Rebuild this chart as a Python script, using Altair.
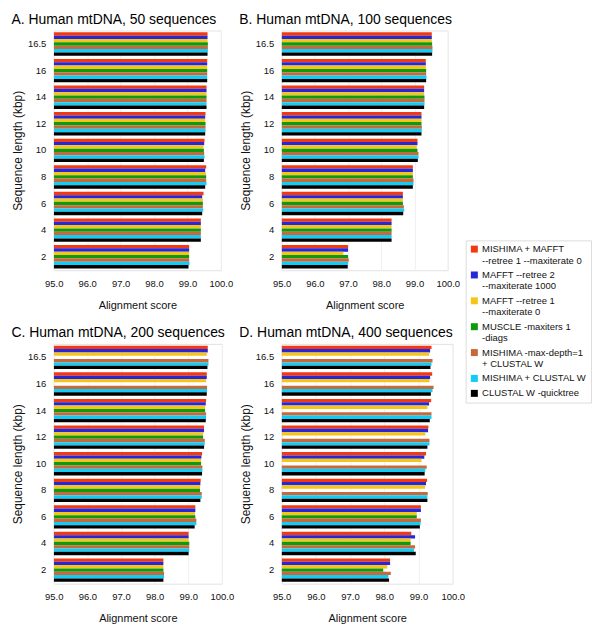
import altair as alt
import pandas as pd

# ---- data -------------------------------------------------------------
lengths = ["16.5", "16", "14", "12", "10", "8", "6", "4", "2"]  # top -> bottom

series = [
    "MISHIMA + MAFFT|--retree 1 --maxiterate 0",
    "MAFFT --retree 2|--maxiterate 1000",
    "MAFFT --retree 1|--maxiterate 0",
    "MUSCLE -maxiters 1|-diags",
    "MISHIMA -max-depth=1|+ CLUSTAL W",
    "MISHIMA + CLUSTAL W",
    "CLUSTAL W -quicktree",
]
colors = ["#F23A12", "#2626DA", "#F5C518", "#0E9A0E", "#C8693A", "#10CCF8", "#000000"]

titles = [
    "A. Human mtDNA, 50 sequences",
    "B. Human mtDNA, 100 sequences",
    "C. Human mtDNA, 200 sequences",
    "D. Human mtDNA, 400 sequences",
]

# values per series, in the order of `lengths`
a_red    = [99.60, 99.59, 99.57, 99.54, 99.51, 99.56, 99.48, 99.40, 99.05]
a_blue   = [99.60, 99.59, 99.57, 99.53, 99.50, 99.53, 99.44, 99.40, 99.05]
a_yellow = [99.60, 99.59, 99.57, 99.53, 99.48, 99.55, 99.46, 99.40, 99.05]
a_green  = [99.61, 99.59, 99.57, 99.54, 99.49, 99.56, 99.46, 99.40, 99.05]
a_brown  = [99.61, 99.59, 99.57, 99.54, 99.50, 99.56, 99.46, 99.40, 99.05]
a_cyan   = [99.61, 99.59, 99.57, 99.54, 99.51, 99.57, 99.47, 99.40, 99.06]
a_black  = [99.60, 99.59, 99.57, 99.53, 99.49, 99.53, 99.44, 99.40, 99.03]

b_red    = [99.52, 99.34, 99.29, 99.21, 99.09, 98.95, 98.65, 98.31, 97.00]
b_blue   = [99.52, 99.34, 99.29, 99.21, 99.09, 98.95, 98.65, 98.31, 97.00]
b_yellow = [99.52, 99.34, 99.29, 99.21, 99.07, 98.95, 98.65, 98.31, 96.86]
b_green  = [99.53, 99.35, 99.30, 99.21, 99.09, 98.95, 98.65, 98.31, 97.00]
b_brown  = [99.54, 99.35, 99.30, 99.22, 99.12, 98.97, 98.68, 98.31, 97.02]
b_cyan   = [99.54, 99.36, 99.30, 99.22, 99.12, 98.97, 98.69, 98.31, 97.00]
b_black  = [99.53, 99.35, 99.29, 99.21, 99.10, 98.95, 98.66, 98.31, 96.99]

c_red    = [99.58, 99.55, 99.53, 99.47, 99.41, 99.37, 99.21, 99.01, 98.26]
c_blue   = [99.58, 99.55, 99.52, 99.47, 99.39, 99.36, 99.21, 99.01, 98.26]
c_yellow = [99.55, 99.53, 99.50, 99.44, 99.38, 99.35, 99.20, 99.01, 98.26]
c_green  = [None,  None,  99.50, 99.44, 99.38, 99.35, 99.21, 99.03, 98.26]
c_brown  = [99.60, 99.56, 99.53, 99.49, 99.42, 99.40, 99.24, 99.03, 98.28]
c_cyan   = [99.60, 99.56, 99.53, 99.49, 99.42, 99.40, 99.24, 99.03, 98.28]
c_black  = [99.57, 99.55, 99.52, 99.47, 99.41, 99.36, 99.19, 99.01, 98.26]

d_red    = [99.38, 99.40, 99.37, 99.29, 99.22, 99.25, 99.07, 98.79, 98.17]
d_blue   = [99.34, 99.34, 99.31, 99.28, 99.17, 99.22, 99.07, 98.90, 98.17]
d_yellow = [99.31, 99.32, 99.26, 99.20, 99.09, 99.19, 98.95, 98.77, 98.09]
d_green  = [None,  None,  None,  None,  None,  None,  98.95, 98.77, 97.97]
d_brown  = [99.41, 99.44, 99.38, 99.32, 99.24, 99.27, 99.07, 98.90, 98.19]
d_cyan   = [99.38, 99.41, 99.38, 99.32, 99.20, 99.26, 99.06, 98.87, 98.12]
d_black  = [99.35, 99.36, 99.33, 99.26, 99.18, 99.26, 99.04, 98.92, 98.14]

panels = [
    [a_red, a_blue, a_yellow, a_green, a_brown, a_cyan, a_black],
    [b_red, b_blue, b_yellow, b_green, b_brown, b_cyan, b_black],
    [c_red, c_blue, c_yellow, c_green, c_brown, c_cyan, c_black],
    [d_red, d_blue, d_yellow, d_green, d_brown, d_cyan, d_black],
]
x_ticks = [95, 96, 97, 98, 99, 100]

FONT = "Liberation Sans"
widths = [168, 167, 169, 172]


def make_panel(idx):
    rows = []
    for s, vals in zip(series, panels[idx]):
        for L, v in zip(lengths, vals):
            if v is not None:
                rows.append({"length": L, "series": s, "score": v})
    df = pd.DataFrame(rows)
    legend = None
    if idx == 0:
        legend = alt.Legend(
            title=None,
            orient="none",
            legendX=414,
            legendY=211,
            symbolType="square",
            symbolSize=49,
            symbolStrokeWidth=0,
            labelFont=FONT,
            labelFontSize=9.5,
            labelColor="#111",
            labelLimit=300,
            labelOffset=3,
            labelExpr="split(datum.label, '|')",
            rowPadding=4,
            padding=4,
            strokeColor="#dcdcdc",
            fillColor="white",
        )
    return (
        alt.Chart(df)
        .mark_bar(clip=True)
        .encode(
            y=alt.Y(
                "length:N",
                sort=lengths,
                title="Sequence length (kbp)",
                scale=alt.Scale(domain=lengths, paddingInner=0.12, paddingOuter=0.07),
                axis=alt.Axis(
                    ticks=False, domain=False, labelPadding=8, labelFontSize=9.5,
                    titleFontSize=12, titleFontWeight="normal", titlePadding=3,
                    labelFont=FONT, titleFont=FONT, labelColor="#111", titleColor="#111",
                ),
            ),
            yOffset=alt.YOffset("series:N", sort=series,
                                scale=alt.Scale(domain=series, paddingInner=0, paddingOuter=0)),
            x=alt.X(
                "score:Q",
                title="Alignment score",
                scale=alt.Scale(domain=[95, 100], zero=False, nice=False),
                axis=alt.Axis(
                    values=x_ticks, format=".1f", ticks=False, domain=False,
                    labelFlush=False, labelOverlap=False,
                    labelPadding=8, labelFontSize=9.5, titleFontSize=11,
                    titleFontWeight="normal", titlePadding=12, gridColor="#f0f0f0",
                    labelFont=FONT, titleFont=FONT, labelColor="#111", titleColor="#111",
                ),
            ),
            x2=alt.datum(95),
            color=alt.Color("series:N", sort=series,
                            scale=alt.Scale(domain=series, range=colors), legend=legend),
        )
        .properties(
            width=widths[idx],
            height=241,
            title=alt.Title(titles[idx], anchor="start", frame="bounds", fontSize=14,
                            fontWeight="normal", font=FONT, offset=4, color="#000"),
        )
    )


chart = (
    alt.concat(*[make_panel(i) for i in range(4)], columns=2,
               spacing={"row": 14, "column": 4})
    .properties(padding={"left": 3, "top": 2, "right": 0, "bottom": 0})
    .configure_view(stroke="#e2e2e2")
)

chart.save("out.html", embed_options={"renderer": "svg", "actions": False})
